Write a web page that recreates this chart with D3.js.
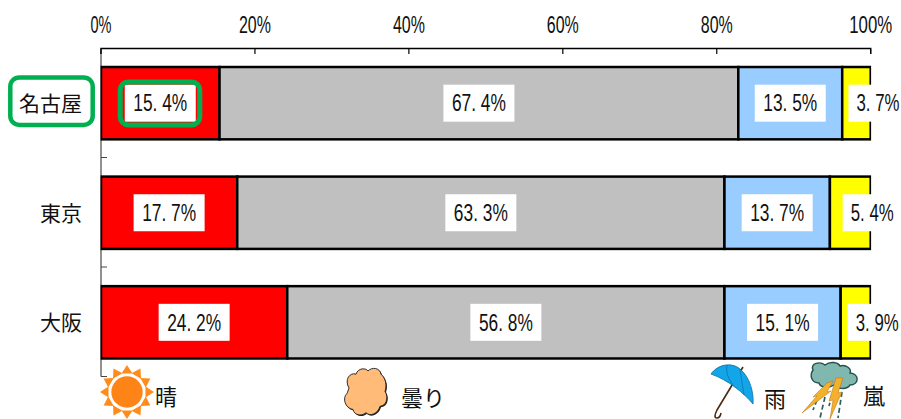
<!DOCTYPE html>
<html lang="ja">
<head>
<meta charset="utf-8">
<style>
  html, body { margin: 0; padding: 0; background: #fff; }
  svg { display: block; }
  text { fill: #111; }
  .jp { font-family: "Noto Sans CJK JP", sans-serif; font-size: 21px; }
  .leg { font-size: 22px; }
  .num { font-family: "Liberation Sans", sans-serif; font-size: 23px; }
</style>
<script src="https://cdn.jsdelivr.net/npm/d3@7/dist/d3.min.js"></script>
</head>
<body>
<svg id="chart" width="901" height="419"></svg>
<script>
// Share of days by weather type for three cities (percent)
const cities = ["名古屋", "東京", "大阪"];
const weatherKeys = ["晴", "曇り", "雨", "嵐"];
const nagoya = [15.4, 67.4, 13.5, 3.7];
const tokyo = [17.7, 63.3, 13.7, 5.4];
const osaka = [24.2, 56.8, 15.1, 3.9];
const seriesByCity = [nagoya, tokyo, osaka];
const fillColors = ["#ff0000", "#c0c0c0", "#99ccff", "#ffff00"];
const axisTicks = [0, 20, 40, 60, 80, 100];

const svg = d3.select("#chart");
const x = d3.scaleLinear().domain([0, 100]).range([101, 870.7]);
const y = d3.scaleBand().domain(cities).range([48.5, 377]).paddingInner(0.34).paddingOuter(0.169);
const outer = d3.scaleBand().domain(cities).range([48.5, 377]);

// Bars are trimmed at the plot's left and right edges, which thins their outer strokes
svg.append("defs").append("clipPath").attr("id", "plot-clip").append("rect")
  .attr("x", x(0) - 0.4).attr("y", 0).attr("width", x(100) - x(0) + 0.8).attr("height", 419);

// Label boxes in the last segment sit to the right of its centre so they stay readable
const lastSegmentShift = 21.5;
const fmt = v => v.toFixed(1).replace(".", ". ") + "%";

// Squeezes a centred number horizontally to the given width, giving a condensed look
function condense(sel, px, py, widthOf) {
  sel.attr("text-anchor", "middle").each(function (d) {
    const k = widthOf(d) / this.getComputedTextLength();
    d3.select(this).attr("transform", `translate(${px(d)},${py}) scale(${k},1)`);
  });
}

// Top percentage axis
const topAxis = svg.append("g");
topAxis.append("path").attr("d", `M${x(0)},54V48.5H${x(100)}V54`)
  .attr("fill", "none").attr("stroke", "#000").attr("stroke-width", 1.3);
topAxis.selectAll("line").data(axisTicks).join("line")
  .attr("x1", d => x(d)).attr("x2", d => x(d)).attr("y1", 48.5).attr("y2", 54)
  .attr("stroke", "#000").attr("stroke-width", 1.2);
topAxis.selectAll("text").data(axisTicks).join("text").attr("class", "num")
  .text(d => d + "%")
  .call(condense, d => x(d), 33, d => (String(d).length + 1) * 11 - 1);

// Category axis line with ticks between the bands
const catAxis = svg.append("g");
catAxis.append("line").attr("x1", x(0)).attr("x2", x(0)).attr("y1", 48.5).attr("y2", 376.5)
  .attr("stroke", "#222").attr("stroke-width", 1);
catAxis.selectAll("line.between").data(cities.slice(1)).join("line").attr("class", "between")
  .attr("x1", x(0)).attr("x2", x(0) + 6).attr("y1", d => outer(d) - 0.5).attr("y2", d => outer(d) - 0.5)
  .attr("stroke", "#444");
catAxis.append("line").attr("x1", x(0)).attr("x2", x(0) + 6).attr("y1", 376.5).attr("y2", 376.5).attr("stroke", "#444");

// Stacked bars, their value labels and the city names
const rows = svg.selectAll("g.row").data(cities).join("g").attr("class", "row");
rows.each(function (city, i) {
  const vals = seriesByCity[i];
  const g = d3.select(this);
  let sum = 0;
  const segs = vals.map((v, k) => { const s = { k, v, from: sum, to: sum + v }; sum += v; return s; });
  g.append("g").attr("clip-path", "url(#plot-clip)")
    .selectAll("rect.seg").data(segs).join("rect").attr("class", "seg")
    .attr("x", d => x(d.from)).attr("width", d => x(Math.min(d.to, 100)) - x(d.from))
    .attr("y", y(city)).attr("height", y.bandwidth())
    .attr("fill", d => fillColors[d.k]).attr("stroke", "#000").attr("stroke-width", 2.5);
  const mid = y(city) + y.bandwidth() / 2;
  const labels = g.selectAll("g.lab").data(segs).join("g").attr("class", "lab")
    .attr("transform", d => `translate(${x((d.from + d.to) / 2) + (d.k === 3 ? lastSegmentShift : 0)},${mid})`);
  labels.append("rect").attr("x", d => d.k === 3 ? -29.5 : -35.5).attr("width", d => d.k === 3 ? 59 : 71)
    .attr("y", -18.5).attr("height", 37).attr("fill", "#fff");
  labels.append("text").attr("class", "num").text(d => fmt(d.v))
    .call(condense, () => 0, 8.3, d => d.k === 3 ? 43 : 54);
  g.append("text").attr("class", "jp").attr("text-anchor", "end").attr("x", 82).attr("y", mid + 8)
    .text(city);
});

// Green highlights around the first city and its first value
const highlight = "#00b050";
const firstMid = y(cities[0]) + y.bandwidth() / 2;
svg.append("rect").attr("x", 10.3).attr("y", firstMid - 25.8).attr("width", 82.4).attr("height", 47.5).attr("rx", 9)
  .attr("fill", "none").attr("stroke", highlight).attr("stroke-width", 4.5);
svg.append("rect").attr("x", 120.2).attr("y", firstMid - 21.3).attr("width", 79.6).attr("height", 43).attr("rx", 8)
  .attr("fill", "none").attr("stroke", highlight).attr("stroke-width", 5);

// Legend labels
const legendX = [155, 401, 764, 863];
const legendBaseline = [405, 405.5, 407, 404];
svg.selectAll("text.leg").data(weatherKeys).join("text").attr("class", "jp leg")
  .attr("x", (d, i) => legendX[i]).attr("y", (d, i) => legendBaseline[i]).text(d => d);

// Sun icon
const sun = svg.append("g").attr("transform", "translate(127,392)");
d3.range(12).forEach(i => {
  sun.append("path").attr("d", "M-5.5,-18.5L0,-27L5.5,-18.5Z").attr("fill", "#ff8c1a")
    .attr("transform", `rotate(${i * 30})`);
});
sun.append("circle").attr("r", 15.7).attr("fill", "#ff8417");

// Cloud icon
const cloudPath = "M-16,-6C-21,-14 -15,-21 -9,-19C-7,-25 1,-25 3,-22C7,-26 15,-25 16,-19C21,-15 22,-8 20,-3C24,3 21,11 15,11C13,18 5,21 1,17C-4,21 -11,19 -12,14C-20,13 -23,3 -18,-1Z";
const cloud = svg.append("g").attr("transform", "translate(365,394.5) scale(1,1.07)");
cloud.append("path").attr("d", cloudPath).attr("fill", "#222").attr("transform", "translate(1,1)");
cloud.append("path").attr("d", cloudPath).attr("fill", "#ffbb77").attr("stroke", "#222").attr("stroke-width", 0.9);

// Umbrella icon
const umbrella = svg.append("g").attr("transform", "translate(700,355)");
umbrella.append("path").attr("d", "M43,12L17,55Q13,63 17,63Q20,63 21,58").attr("fill", "none").attr("stroke", "#4a2a10").attr("stroke-width", 1.6);
umbrella.append("path").attr("d", "M11,19C18,9 32,7 40,14C50,22 54,38 53,49C44,38 28,25 11,19Z").attr("fill", "#12a5e8").attr("stroke", "#0a6fa8").attr("stroke-width", 0.8);
umbrella.append("path").attr("d", "M27,10Q25,20 33,30M40,14Q42,28 44,40").attr("fill", "none").attr("stroke", "#0a6fa8").attr("stroke-width", 0.7);

// Storm icon
const storm = svg.append("g").attr("transform", "translate(800,360)");
storm.append("path").attr("d", "M13,10C10,3 20,1 25,5C30,1 38,2 40,6C46,4 52,9 50,13C60,14 59,25 50,25C46,31 36,28 34,25C28,29 20,27 19,23C12,23 9,16 13,10Z")
  .attr("fill", "#80b8b0").attr("stroke", "#26504c").attr("stroke-width", 1.4);
storm.append("path").attr("d", "M25,37L20,58M42,32L38,58M17,40L13,50M32,35L29,46")
  .attr("fill", "none").attr("stroke", "#2f5f5a").attr("stroke-width", 1.7).attr("stroke-dasharray", "5 3");
storm.append("path").attr("d", "M27,23L33,21L27,32L31,31L2,53L17,36L13,37Z").attr("fill", "#f3b02c").attr("stroke", "#b86c10").attr("stroke-width", 0.5);
storm.append("path").attr("d", "M36,18L43,18L38,33L42,32L30,59L33,40L29,41Z").attr("fill", "#f3b02c").attr("stroke", "#b86c10").attr("stroke-width", 0.5);
</script>
</body>
</html>
